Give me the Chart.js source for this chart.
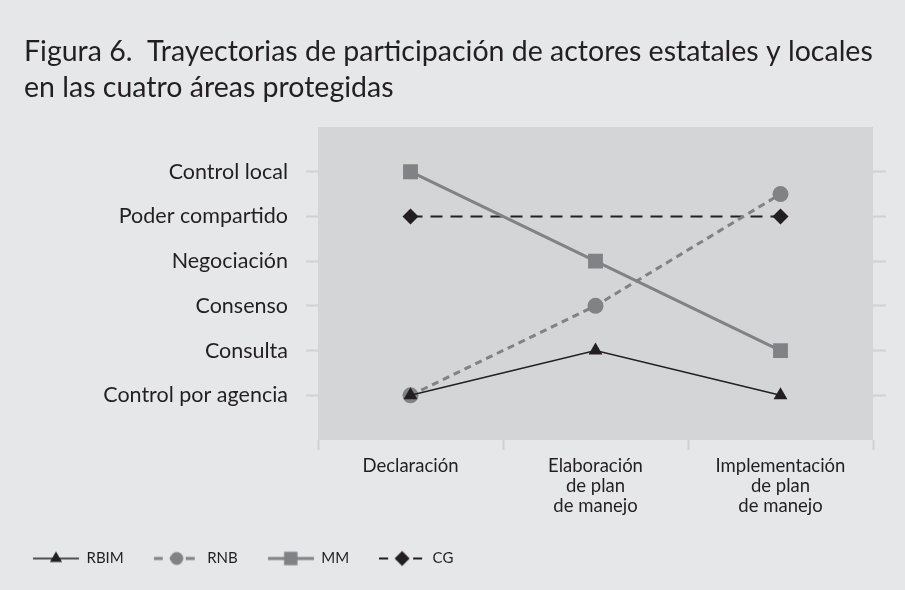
<!DOCTYPE html>
<html lang="es">
<head>
<meta charset="UTF-8">
<script src="https://cdn.jsdelivr.net/npm/chart.js@4.4.1/dist/chart.umd.min.js"></script>
<title>Figura 6</title>
<style>
  html, body { margin: 0; padding: 0; background: #e6e7e8; }
  #wrap { width: 905px; height: 590px; }
</style>
</head>
<body>
<div id="wrap"><canvas id="chart" width="905" height="590"></canvas></div>
<script>
// etapas (eje x) y niveles de participacion (eje y)
var stages = [['Declaración'], ['Elaboración', 'de plan', 'de manejo'], ['Implementación', 'de plan', 'de manejo']];
var levels = ['Control por agencia', 'Consulta', 'Consenso', 'Negociación', 'Poder compartido', 'Control local'];

// valor = indice en levels
var rbim = [0, 1, 0];
var rnb = [0, 2, 4.5];
var mm = [5, 3, 1];
var cg = [4, 4, 4];

var black = '#231f20';
var grey = '#808285';
var tickGrey = '#d0d1d3';

// marcador + linea para la leyenda
function legendIcon(color, dash, width, style, r) {
    var c = document.createElement('canvas');
    c.width = 46; c.height = 20;
    var g = c.getContext('2d');
    g.strokeStyle = color;
    g.lineWidth = width;
    g.setLineDash(dash);
    g.beginPath(); g.moveTo(0, 10); g.lineTo(46, 10); g.stroke();
    g.setLineDash([]);
    g.fillStyle = color;
    g.beginPath();
    if (style == 'triangle') {
        g.moveTo(23, 10 - r); g.lineTo(23 + r * 0.87, 10 + r * 0.5); g.lineTo(23 - r * 0.87, 10 + r * 0.5);
    } else if (style == 'circle') {
        g.arc(23, 10, r, 0, Math.PI * 2);
    } else if (style == 'rect') {
        g.rect(23 - r * 0.707, 10 - r * 0.707, r * 1.414, r * 1.414);
    } else {
        g.moveTo(23, 10 - r); g.lineTo(23 + r, 10); g.lineTo(23, 10 + r); g.lineTo(23 - r, 10);
    }
    g.closePath(); g.fill();
    return c;
}

var plotBg = {
    id: 'plotBg',
    afterLayout: function (chart) {
        // la leyenda empieza mas a la izquierda que el titulo
        chart.legend.left = 3;
    },
    beforeDraw: function (chart) {
        var a = chart.chartArea, ctx = chart.ctx;
        ctx.save();
        ctx.fillStyle = '#e6e7e8';
        ctx.fillRect(0, 0, chart.width, chart.height);
        ctx.fillStyle = '#d4d5d7';
        ctx.fillRect(a.left, a.top, a.right - a.left, a.bottom - a.top);
        ctx.restore();
    }
};

var ds = [
    { label: 'RBIM', data: rbim, borderColor: black, backgroundColor: black, borderWidth: 1.5,
      pointStyle: 'triangle', pointRadius: 8, icon: legendIcon(black, [], 1.5, 'triangle', 7) },
    { label: 'RNB', data: rnb, borderColor: grey, backgroundColor: grey, borderWidth: 3, borderDash: [7, 5],
      pointStyle: 'circle', pointRadius: 8, icon: legendIcon(grey, [9, 7], 3, 'circle', 6.5) },
    { label: 'MM', data: mm, borderColor: grey, backgroundColor: grey, borderWidth: 3,
      pointStyle: 'rect', pointRadius: 10.5, icon: legendIcon(grey, [], 3, 'rect', 9.5) },
    { label: 'CG', data: cg, borderColor: black, backgroundColor: black, borderWidth: 2, borderDash: [12, 8],
      pointStyle: 'rectRot', pointRadius: [8, 0, 8], icon: legendIcon(black, [9, 8], 2, 'rectRot', 7.5) }
];
ds.forEach(function (d) { d.pointBorderWidth = 0; d.pointHoverRadius = d.pointRadius; d.tension = 0; });

var font = 'Lato, "Open Sans", sans-serif';

new Chart(document.getElementById('chart'), {
    type: 'line',
    data: { labels: stages, datasets: ds },
    plugins: [plotBg],
    options: {
        responsive: false,
        animation: false,
        layout: { padding: { left: 24, right: 19, top: 0, bottom: 14 } },
        plugins: {
            tooltip: { enabled: false },
            title: {
                display: true,
                align: 'start',
                text: ['Figura 6.  Trayectorias de participación de actores estatales y locales',
                       'en las cuatro áreas protegidas'],
                color: black,
                font: { family: font, size: 28.5, weight: 'normal', lineHeight: 1.263 },
                padding: { top: 34, bottom: 21 }
            },
            legend: {
                position: 'bottom',
                align: 'start',
                labels: {
                    usePointStyle: true,
                    pointStyleWidth: 46,
                    padding: 30,
                    color: black,
                    font: { family: font, size: 15 },
                    generateLabels: function (chart) {
                        return chart.data.datasets.map(function (d, i) {
                            return { text: d.label, pointStyle: d.icon, fillStyle: d.borderColor,
                                     strokeStyle: d.borderColor, lineWidth: 0, datasetIndex: i, fontColor: black };
                        });
                    }
                }
            }
        },
        scales: {
            x: {
                offset: true,
                grid: { offset: true, drawOnChartArea: false, tickLength: 10, tickWidth: 2, tickColor: tickGrey },
                border: { display: false },
                ticks: { color: black, font: { family: font, size: 18.5, lineHeight: 1.08 }, padding: 6, maxRotation: 0 },
                afterFit: function (s) { s.height = 81; }
            },
            y: {
                min: -1, max: 6,
                afterBuildTicks: function (s) { s.ticks = levels.map(function (l, i) { return { value: i }; }); },
                grid: { drawOnChartArea: false, tickLength: 12, tickWidth: 2, tickColor: tickGrey },
                border: { display: false },
                ticks: { color: black, font: { family: font, size: 21.5 }, padding: 18,
                         callback: function (v) { return levels[v]; } },
                afterFit: function (s) { s.width = 294; }
            },
            y2: {
                position: 'right',
                min: -1, max: 6,
                afterBuildTicks: function (s) { s.ticks = levels.map(function (l, i) { return { value: i }; }); },
                grid: { drawOnChartArea: false, tickLength: 13, tickWidth: 2, tickColor: tickGrey },
                border: { display: false },
                ticks: { display: false },
                afterFit: function (s) { s.width = 13; }
            }
        }
    }
});
</script>
</body>
</html>
